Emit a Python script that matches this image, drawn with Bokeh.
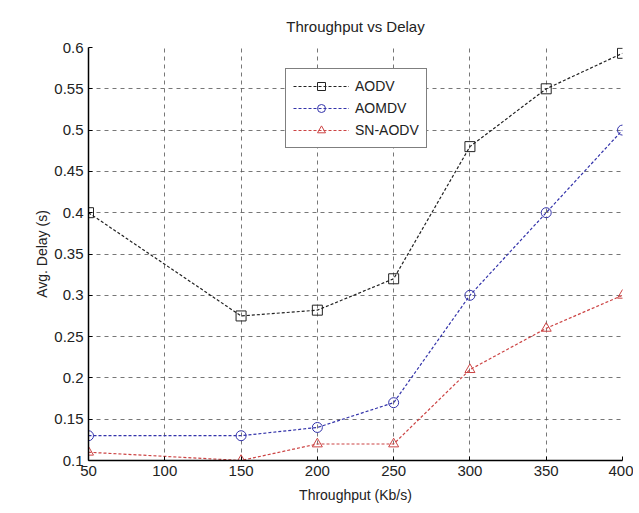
from bokeh.plotting import figure
from bokeh.embed import file_html
from bokeh.resources import INLINE
from bokeh.models import FixedTicker, Range1d, Legend, LegendItem

throughput = [50, 150, 200, 250, 300, 350, 400]
aodv = [0.40, 0.275, 0.282, 0.32, 0.48, 0.55, 0.593]
aomdv = [0.13, 0.13, 0.14, 0.17, 0.30, 0.40, 0.50]
sn_aodv = [0.11, 0.10, 0.12, 0.12, 0.21, 0.26, 0.30]
x_ticks = [50, 100, 150, 200, 250, 300, 350, 400]
y_ticks = [0.1, 0.15, 0.2, 0.25, 0.3, 0.35, 0.4, 0.45, 0.5, 0.55, 0.6]

p = figure(width=633, height=505, output_backend="svg", toolbar_location=None,
           x_range=Range1d(50, 400), y_range=Range1d(0.1, 0.6),
           min_border_left=88, min_border_right=11, min_border_top=47, min_border_bottom=45,
           title="Throughput vs Delay")
p.title.align = "center"
p.title.text_font = "Liberation Sans"
p.title.text_font_size = "15px"
p.title.text_font_style = "normal"
p.title.text_color = "#222222"
p.title.standoff = 26
p.outline_line_color = None
p.background_fill_color = "white"
p.border_fill_color = "white"

p.xaxis.ticker = FixedTicker(ticks=x_ticks)
p.yaxis.ticker = FixedTicker(ticks=y_ticks)
p.yaxis.major_label_overrides = {v: ("%g" % v) for v in y_ticks}
for ax in (p.xaxis[0], p.yaxis[0]):
    ax.axis_line_color = "black"
    ax.axis_line_width = 1.5
    ax.major_tick_in = 4
    ax.major_tick_out = 0
    ax.minor_tick_line_color = None
    ax.major_label_text_font = "Liberation Sans"
    ax.major_label_text_font_size = "15px"
    ax.major_label_text_color = "#222222"
    ax.axis_label_text_font = "Liberation Sans"
    ax.axis_label_text_font_size = "14px"
    ax.axis_label_text_font_style = "normal"
    ax.axis_label_text_color = "#222222"
p.xaxis.axis_label = "Throughput (Kb/s)"
p.yaxis.axis_label = "Avg. Delay (s)"
p.xaxis.axis_label_standoff = 8
p.yaxis.axis_label_standoff = 1

p.xgrid.ticker = FixedTicker(ticks=x_ticks)
p.ygrid.ticker = FixedTicker(ticks=y_ticks)
for g in (p.xgrid[0], p.ygrid[0]):
    g.grid_line_color = "#555555"
    g.grid_line_dash = "4 4"
    g.grid_line_width = 1
    g.grid_line_alpha = 0.8

l1 = p.line(throughput, aodv, line_color="#222222", line_dash="3 2", line_width=1.2)
m1 = p.scatter(throughput, aodv, marker="square", size=10, fill_color=None, line_color="#222222")
l2 = p.line(throughput, aomdv, line_color="#3333aa", line_dash="3 2", line_width=1.2)
m2 = p.scatter(throughput, aomdv, marker="circle", size=10, fill_color=None, line_color="#3333aa")
l3 = p.line(throughput, sn_aodv, line_color="#cc4444", line_dash="3 2", line_width=1.2)
m3 = p.scatter(throughput, sn_aodv, marker="triangle", size=10, fill_color=None, line_color="#cc4444")

legend = Legend(items=[
    LegendItem(label="AODV", renderers=[l1, m1]),
    LegendItem(label="AOMDV", renderers=[l2, m2]),
    LegendItem(label="SN-AODV", renderers=[l3, m3]),
], location=(197, 312))
legend.border_line_color = "black"
legend.border_line_width = 1.2
legend.label_text_font = "Liberation Sans"
legend.label_text_font_size = "14px"
legend.label_text_color = "#222222"
legend.glyph_width = 56
legend.glyph_height = 20
legend.label_height = 20
legend.label_standoff = 6
legend.spacing = 2
legend.padding = 7
legend.margin = 0
legend.background_fill_alpha = 1
p.add_layout(legend, "center")

open("out.html", "w").write(file_html(p, INLINE))
